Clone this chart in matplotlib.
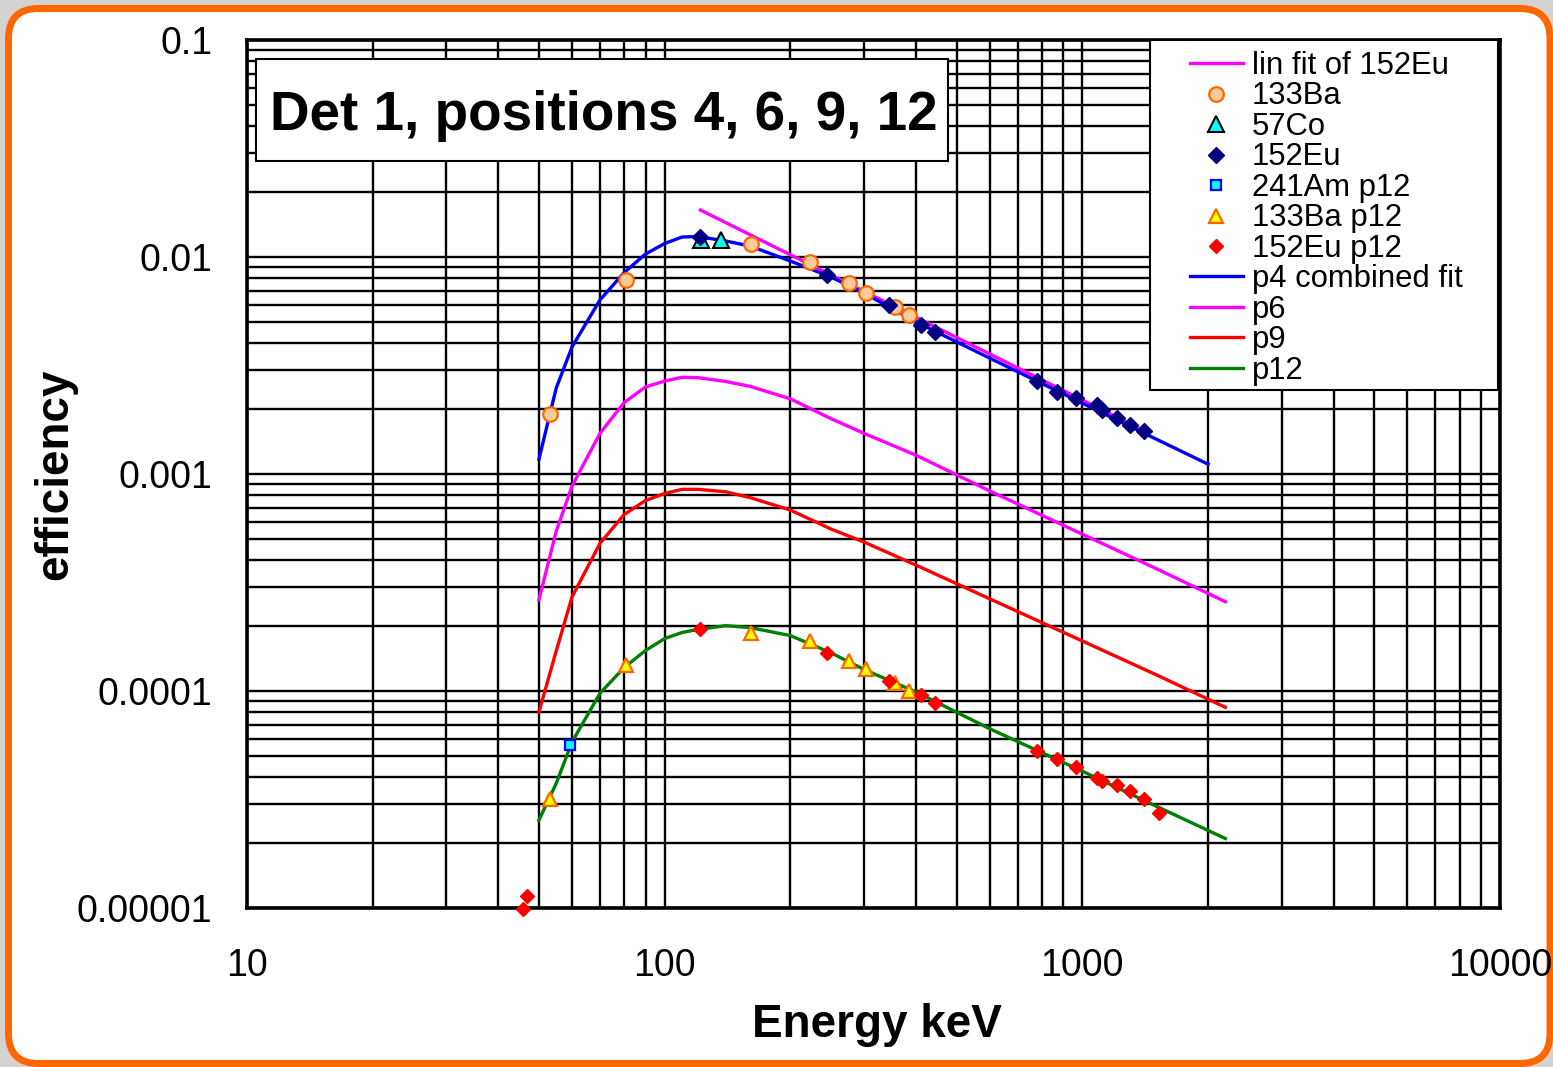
import matplotlib
matplotlib.use("Agg")
import matplotlib.pyplot as plt
from matplotlib.patches import FancyBboxPatch, Rectangle
from matplotlib.transforms import IdentityTransform
from matplotlib.ticker import NullFormatter

plt.rcParams['font.family'] = ['Liberation Sans', 'DejaVu Sans']

# energies (keV) at which the efficiency fits were evaluated
fit_e = [50, 55, 60, 70, 80, 90, 100, 110, 120, 140, 160, 200, 250, 300, 400, 600, 1000, 1500, 2000]
fit_e_long = [50, 55, 60, 70, 80, 90, 100, 110, 120, 140, 160, 200, 250, 300, 400, 600, 1000, 1500, 2200]

p4_eff = [0.00117, 0.00249, 0.00385, 0.00634, 0.00848, 0.01032, 0.01154, 0.01236, 0.01243, 0.01185,
          0.01124, 0.00958, 0.00809, 0.00682, 0.00502, 0.00342, 0.00212, 0.00145, 0.00111]
p6_eff = [2.63e-4, 5.45e-4, 8.79e-4, 1.54e-3, 2.135e-3, 2.52e-3, 2.68e-3, 2.79e-3, 2.78e-3, 2.67e-3,
          2.535e-3, 2.22e-3, 1.80e-3, 1.54e-3, 1.22e-3, 8.36e-4, 5.28e-4, 3.67e-4, 2.58e-4]
p9_eff = [8.0e-5, 1.53e-4, 2.71e-4, 4.79e-4, 6.51e-4, 7.55e-4, 8.13e-4, 8.50e-4, 8.50e-4, 8.28e-4,
          7.79e-4, 6.82e-4, 5.58e-4, 4.86e-4, 3.80e-4, 2.66e-4, 1.70e-4, 1.19e-4, 8.41e-5]
p12_eff = [2.54e-5, 3.75e-5, 5.82e-5, 9.76e-5, 1.283e-4, 1.537e-4, 1.744e-4, 1.86e-4, 1.92e-4, 2.00e-4,
           1.96e-4, 1.80e-4, 1.50e-4, 1.257e-4, 9.89e-5, 6.7e-5, 4.27e-5, 2.95e-5, 2.09e-5]

# power-law fit through the 152Eu points
linfit_e = [121.8, 1408.0]
linfit_eff = [0.01646, 0.00158]

# measured peaks, position 4
ba_e = [53.2, 81.0, 160.6, 223.2, 276.4, 302.9, 356.0, 383.9]
ba_eff = [0.00189, 0.00783, 0.01148, 0.00945, 0.00761, 0.00685, 0.00586, 0.00540]
co_e = [122.1, 136.5]
co_eff = [0.0120, 0.0120]
eu_e = [121.8, 244.7, 344.3, 411.1, 444.0, 778.9, 867.4, 964.1, 1085.8, 1112.1, 1212.9, 1299.1, 1408.0]
eu_eff = [0.0123, 0.00826, 0.00601, 0.00486, 0.00453, 0.00269, 0.00238, 0.00223, 0.00208,
          0.00197, 0.00181, 0.00169, 0.00158]

# measured peaks, position 12
am12_e = [59.5]
am12_eff = [5.64e-5]
ba12_e = [53.2, 81.0, 160.6, 223.2, 276.4, 302.9, 356.0, 383.9]
ba12_eff = [3.17e-5, 1.318e-4, 1.856e-4, 1.706e-4, 1.379e-4, 1.267e-4, 1.085e-4, 1.003e-4]
eu12_e = [45.7, 46.8, 121.8, 244.7, 344.3, 411.1, 444.0, 778.9, 867.4, 964.1, 1085.8, 1112.1,
          1212.9, 1299.1, 1408.0, 1528.1]
eu12_eff = [9.9e-6, 1.136e-5, 1.93e-4, 1.50e-4, 1.115e-4, 9.58e-5, 8.83e-5, 5.29e-5, 4.86e-5,
            4.48e-5, 3.96e-5, 3.85e-5, 3.69e-5, 3.47e-5, 3.18e-5, 2.75e-5]

x_ticks = [10, 100, 1000, 10000]
x_labels = ['10', '100', '1000', '10000']
y_ticks = [1e-5, 1e-4, 1e-3, 1e-2, 1e-1]
y_labels = ['0.00001', '0.0001', '0.001', '0.01', '0.1']

fig = plt.figure(figsize=(15.53, 10.67), dpi=100)
fig.patch.set_facecolor('#d2d2ce')

# rounded orange frame behind everything
frame = FancyBboxPatch((8.5, 3.5), 1541.5, 1055, boxstyle="round,pad=0,rounding_size=30",
                       transform=IdentityTransform(), facecolor='white', edgecolor='#ff6600',
                       linewidth=5, zorder=0)
fig.add_artist(frame)

ax = fig.add_axes([0.15905, 0.14902, 0.80682, 0.81349])
ax.set_xscale('log')
ax.set_yscale('log')
ax.set_xlim(10, 10000)
ax.set_ylim(1e-5, 0.1)

lw = 2.4
ax.plot(linfit_e, linfit_eff, color='#ff00ff', lw=lw, zorder=3, label='lin fit of 152Eu')
ax.plot(ba_e, ba_eff, 'o', ms=10.5, mfc='#ffcc99', mec='#ff6600', mew=1.6, zorder=4,
        clip_on=False, label='133Ba')
ax.plot(co_e, co_eff, '^', ms=11, mfc='#00ffff', mec='black', mew=1.5, zorder=4,
        clip_on=False, label='57Co')
ax.plot(eu_e, eu_eff, 'D', ms=8.5, mfc='#000080', mec='#000080', zorder=4,
        clip_on=False, label='152Eu')
ax.plot(am12_e, am12_eff, 's', ms=7.5, mfc='#00ffff', mec='#0000ff', mew=1.6, zorder=4,
        clip_on=False, label='241Am p12')
ax.plot(ba12_e, ba12_eff, '^', ms=9.5, mfc='#ffff00', mec='#ff6600', mew=1.6, zorder=4,
        clip_on=False, label='133Ba p12')
ax.plot(eu12_e, eu12_eff, 'D', ms=7, mfc='#ff0000', mec='#ff0000', zorder=4,
        clip_on=False, label='152Eu p12')
ax.plot(fit_e, p4_eff, color='#0000ff', lw=lw, zorder=3, label='p4 combined fit')
ax.plot(fit_e_long, p6_eff, color='#ff00ff', lw=lw, zorder=3, label='p6')
ax.plot(fit_e_long, p9_eff, color='#ff0000', lw=lw, zorder=3, label='p9')
ax.plot(fit_e_long, p12_eff, color='#008000', lw=lw, zorder=3, label='p12')

# axes, grid and ticks
ax.set_axisbelow(True)
ax.grid(True, which='both', color='black', lw=1.7)
ax.set_xticks(x_ticks, x_labels)
ax.set_yticks(y_ticks, y_labels)
ax.xaxis.set_minor_formatter(NullFormatter())
ax.yaxis.set_minor_formatter(NullFormatter())
ax.tick_params(which='both', length=0)
ax.tick_params(axis='x', labelsize=27, pad=29)
ax.tick_params(axis='y', labelsize=27, pad=25)
for s in ax.spines.values():
    s.set_linewidth(2.6)

ax.set_xlabel('Energy keV', fontsize=33, fontweight='bold', va='center')
ax.xaxis.set_label_coords(0.5028, -0.1348)
ax.set_ylabel('efficiency', fontsize=33, fontweight='bold', va='center')
ax.yaxis.set_label_coords(-0.1532, 0.5)

# title box
ax.add_patch(Rectangle((0.00718, 0.8606), 0.5523, 0.1172, transform=ax.transAxes,
                       facecolor='white', edgecolor='black', lw=1.5, zorder=5))
ax.text(0.2849, 0.8963, 'Det 1, positions 4, 6, 9, 12', transform=ax.transAxes,
        ha='center', va='baseline', fontsize=39.5, fontweight='bold', zorder=6)

# legend with its own white box
ax.add_patch(Rectangle((0.7207, 0.5968), 0.2777, 0.4032, transform=ax.transAxes,
                       facecolor='white', edgecolor='black', lw=1.5, zorder=5, clip_on=False))
leg = ax.legend(loc='upper left', bbox_to_anchor=(0.7526, 0.9873), frameon=False,
                fontsize=22.3, numpoints=1, handlelength=1.7, handletextpad=0.3,
                labelspacing=0.015, borderpad=0, borderaxespad=0)
leg.set_zorder(6)

fig.savefig('out.png', dpi=100, facecolor=fig.get_facecolor())
